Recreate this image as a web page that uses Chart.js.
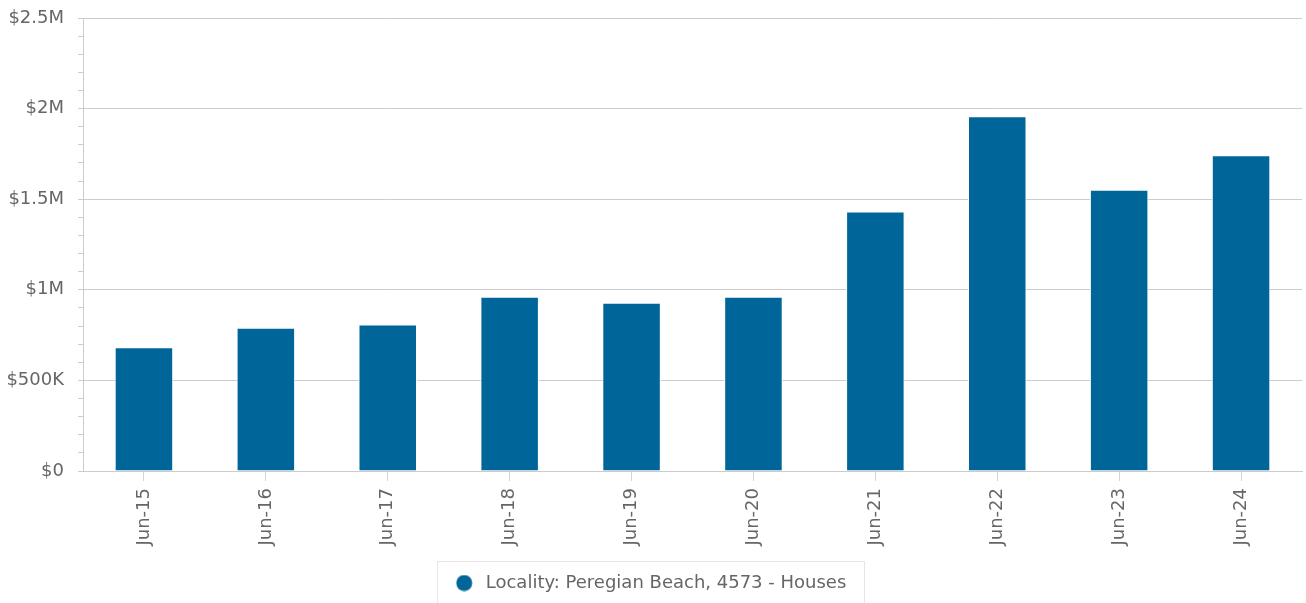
<!DOCTYPE html>
<html>
<head>
<meta charset="utf-8">
<script src="https://cdn.jsdelivr.net/npm/chart.js@4/dist/chart.umd.min.js"></script>
<style>
  body { margin: 0; background: #fff; }
  #wrap { width: 1306px; height: 603px; }
</style>
</head>
<body>
<div id="wrap"><canvas id="myChart" width="1306" height="603"></canvas></div>
<script>
// donnees du graphique
var categories = ['Jun-15', 'Jun-16', 'Jun-17', 'Jun-18', 'Jun-19', 'Jun-20', 'Jun-21', 'Jun-22', 'Jun-23', 'Jun-24'];
var medianPrices = [683000, 791000, 808000, 962000, 929000, 962000, 1432000, 1958000, 1552000, 1742000];
var seriesLabel = 'Locality: Peregian Beach, 4573 - Houses';
var tickLabels = {0: '$0', 500000: '$500K', 1000000: '$1M', 1500000: '$1.5M', 2000000: '$2M', 2500000: '$2.5M'};

var police = "'DejaVu Sans', sans-serif";
var bleu = '#006699';

// puce ronde de la legende (cercle a gauche, place pour le texte a droite)
var puce = document.createElement('canvas');
puce.width = 21;
puce.height = 17;
var pctx = puce.getContext('2d');
pctx.fillStyle = bleu;
pctx.beginPath();
pctx.arc(8.5, 8.5, 8, 0, Math.PI * 2);
pctx.fill();

// cadre autour de la legende
var legendBox = {
    id: 'legendBox',
    afterDraw: function(chart) {
        var boxes = chart.legend.legendHitBoxes;
        if (!boxes || !boxes.length) return;
        var b = boxes[0];
        var ctx = chart.ctx;
        ctx.save();
        ctx.strokeStyle = '#e6e6e6';
        ctx.lineWidth = 1;
        ctx.strokeRect(Math.round(b.left - 19) + 0.5, Math.round(b.top - 13) + 0.5, Math.round(b.width + 36), 60);
        ctx.restore();
    }
};

const data = {
    labels: categories,
    datasets: [{
        label: seriesLabel,
        data: medianPrices,
        backgroundColor: bleu,
        borderColor: '#ffffff',
        borderWidth: 1,
        categoryPercentage: 1,
        barPercentage: 0.48
    }]
};

const config = {
    type: 'bar',
    data: data,
    options: {
        responsive: false,
        animation: false,
        layout: {
            padding: { left: 0, right: 4, top: 0, bottom: 1 }
        },
        plugins: {
            tooltip: { enabled: false },
            legend: {
                position: 'bottom',
                labels: {
                    usePointStyle: true,
                    pointStyle: puce,
                    pointStyleWidth: 21,
                    boxHeight: 17,
                    padding: 12,
                    color: '#666666',
                    font: { family: police, size: 18 }
                }
            }
        },
        scales: {
            x: {
                offset: true,
                border: { color: '#cccccc' },
                grid: {
                    offset: false,
                    drawOnChartArea: false,
                    tickLength: 10,
                    tickColor: '#ccd6eb'
                },
                ticks: {
                    minRotation: 90,
                    maxRotation: 90,
                    padding: 7,
                    color: '#666666',
                    font: { family: police, size: 18 }
                },
                afterFit: function(scale) {
                    scale.height = 91;
                }
            },
            y: {
                min: 0,
                max: 2500000,
                border: { color: '#cccccc' },
                grid: {
                    tickLength: 5,
                    tickColor: '#cccccc',
                    color: function(c) {
                        return c.tick && c.tick.value % 500000 === 0 ? '#cccccc' : 'rgba(0,0,0,0)';
                    }
                },
                ticks: {
                    stepSize: 100000,
                    autoSkip: false,
                    padding: 14,
                    color: '#666666',
                    font: { family: police, size: 18 },
                    callback: function(v) {
                        // '' garde le petit trait de graduation
                        return tickLabels[v] !== undefined ? tickLabels[v] : '';
                    }
                },
                afterFit: function(scale) {
                    scale.width = 83;
                    scale.paddingTop = 18;
                    scale.paddingBottom = 0;
                }
            }
        }
    },
    plugins: [legendBox]
};

const myChart = new Chart(document.getElementById('myChart'), config);
</script>
</body>
</html>
